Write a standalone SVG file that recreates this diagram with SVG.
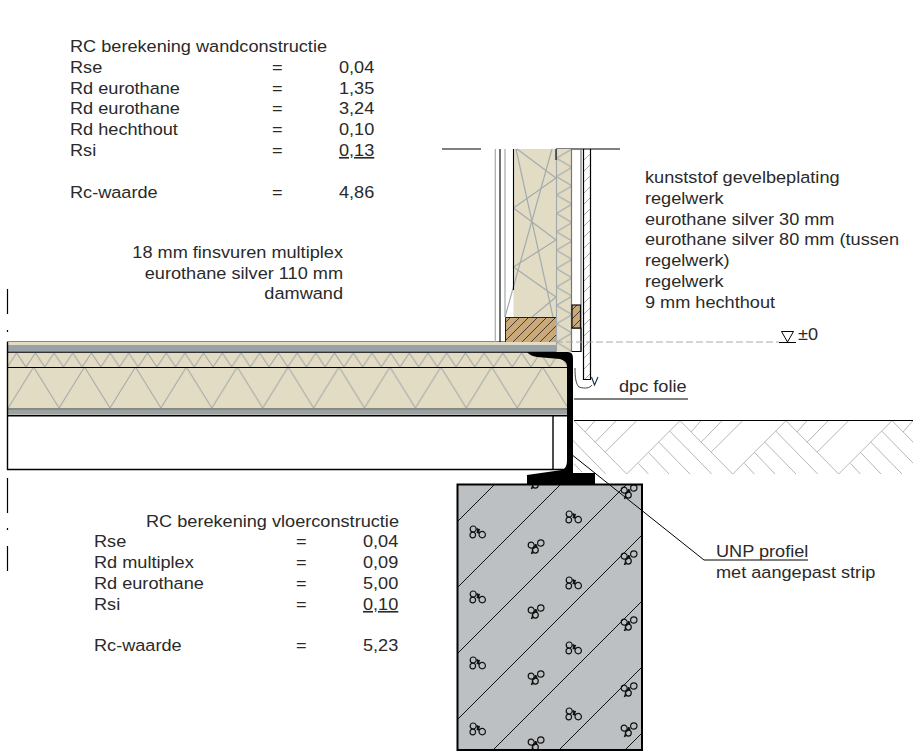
<svg xmlns="http://www.w3.org/2000/svg" width="920" height="756" viewBox="0 0 920 756">
<style>
text{font-family:"Liberation Sans",Arial,sans-serif;font-size:16.5px;fill:#2a2a2a;transform-box:fill-box;transform-origin:0 50%;transform:scaleX(1.1)}
.r{text-anchor:end;transform-origin:100% 50%}
.k{stroke:#000;fill:none}
.g{stroke:#a3abaf;stroke-width:1.2;fill:none}
.h{stroke:#b4b8b6;stroke-width:1;fill:none}
.rb{fill:none;stroke:#111;stroke-width:1.2}
</style>
<defs>
<pattern id="zu" patternUnits="userSpaceOnUse" width="18.7" height="14" patternTransform="translate(7.3,353)"><path d="M0,14L9.35,0L18.7,14" fill="none" stroke="#a6aaa8" stroke-width="1.1"/></pattern>
<pattern id="zl" patternUnits="userSpaceOnUse" width="50.9" height="41" patternTransform="translate(8.2,367)"><path d="M0,41L25.45,0L50.9,41" fill="none" stroke="#a6aaa8" stroke-width="1.1"/></pattern>
<pattern id="zw" patternUnits="userSpaceOnUse" width="15.5" height="18.4" patternTransform="translate(556.5,149)"><path d="M15.5,0L0,9.2L15.5,18.4" fill="none" stroke="#a3abaf" stroke-width="1.1"/></pattern>
<pattern id="hb" patternUnits="userSpaceOnUse" width="9" height="9"><path d="M-1,10L10,-1" stroke="#3a3028" stroke-width=".9"/></pattern>
<pattern id="cl" patternUnits="userSpaceOnUse" width="7" height="11" patternTransform="translate(584,150)"><path d="M0,10L7,3" stroke="#a6aaa8"/></pattern>
<clipPath id="gc"><rect x="573" y="420" width="340" height="55"/></clipPath>
<clipPath id="cc"><rect x="458" y="485" width="183" height="264"/></clipPath>
<g id="hp" class="h"><path d="M0,0L53.3,-53.3L106,0M-21.7,-21.7L10,-53.3M-31.7,-31.7L-10.6,-53.3M-41.7,-42L-31.7,-53.3M43,-43L85,0M32,-32L63.3,0M21.7,-21.7L42.3,0M11.7,-10.6L21.7,0"/></g>
<g id="r1"><circle class="rb" cx="-4.8" cy="-3" r="3"/><circle class="rb" cx="-5.2" cy="3" r="2.8"/><circle class="rb" cx="4.2" cy="2.6" r="3.2"/><path d="M-1,-3.5L1.5,1.5M1.5,-3L-1,1" stroke="#111" stroke-width="1.7"/></g>
<g id="r2"><circle class="rb" cx="-3.8" cy="-.8" r="3"/><circle class="rb" cx="5.8" cy="-3" r="3.2"/><circle class="rb" cx=".3" cy="4.1" r="3"/><path d="M-2,3L1.5,-1.5M0,-1.5L2,1M-3.5,8L-2,4.5" stroke="#111" stroke-width="1.7"/></g>
</defs>

<g id="calc-wall">
<text x="70" y="52">RC berekening wandconstructie</text>
<text x="70" y="73">Rse</text><text x="272" y="73">=</text><text x="339" y="73">0,04</text>
<text x="70" y="94">Rd eurothane</text><text x="272" y="94">=</text><text x="339" y="94">1,35</text>
<text x="70" y="114">Rd eurothane</text><text x="272" y="114">=</text><text x="339" y="114">3,24</text>
<text x="70" y="135">Rd hechthout</text><text x="272" y="135">=</text><text x="339" y="135">0,10</text>
<text x="70" y="156">Rsi</text><text x="272" y="156">=</text><text x="339" y="156" text-decoration="underline">0,13</text>
<text x="70" y="198">Rc-waarde</text><text x="272" y="198">=</text><text x="339" y="198">4,86</text>
</g>
<g id="label-floor">
<text class="r" x="343" y="258">18 mm finsvuren multiplex</text>
<text class="r" x="343" y="279">eurothane silver 110 mm</text>
<text class="r" x="343" y="299">damwand</text>
</g>
<g id="label-wall">
<text x="645" y="183">kunststof gevelbeplating</text>
<text x="645" y="204">regelwerk</text>
<text x="645" y="225">eurothane silver 30 mm</text>
<text x="645" y="245">eurothane silver 80 mm (tussen</text>
<text x="645" y="266">regelwerk)</text>
<text x="645" y="287">regelwerk</text>
<text x="645" y="308">9 mm hechthout</text>
</g>
<g id="calc-floor">
<text x="146" y="527">RC berekening vloerconstructie</text>
<text x="94" y="547">Rse</text><text x="296" y="547">=</text><text x="363" y="547">0,04</text>
<text x="94" y="568">Rd multiplex</text><text x="296" y="568">=</text><text x="363" y="568">0,09</text>
<text x="94" y="589">Rd eurothane</text><text x="296" y="589">=</text><text x="363" y="589">5,00</text>
<text x="94" y="610">Rsi</text><text x="296" y="610">=</text><text x="363" y="610" text-decoration="underline">0,10</text>
<text x="94" y="651">Rc-waarde</text><text x="296" y="651">=</text><text x="363" y="651">5,23</text>
</g>

<g id="ground">
<g clip-path="url(#gc)">
<use href="#hp" x="520.7" y="474"/><use href="#hp" x="626.7" y="474"/><use href="#hp" x="732.7" y="474"/><use href="#hp" x="838.7" y="474"/><use href="#hp" x="944.7" y="474"/>
</g>
<path class="k" d="M573,420.5H913"/>
<path d="M573,399H688" stroke="#555" stroke-width="1.4"/>
</g>

<g id="concrete">
<rect x="457.5" y="484.5" width="184.5" height="265.5" fill="#bcc0c2" stroke="#000" stroke-width="2"/>
<g clip-path="url(#cc)" stroke="#111" fill="none">
<path d="M457,522L495,484M457,588L561,484M457,654L627,484M457,720L642,535M457,786L642,601M523,786L642,667M589,786L642,733"/>
<use href="#r1" x="478" y="532"/><use href="#r1" x="478" y="597"/><use href="#r1" x="478" y="663"/><use href="#r1" x="478" y="729"/>
<use href="#r2" x="535" y="546"/><use href="#r2" x="535" y="611"/><use href="#r2" x="535" y="677"/><use href="#r2" x="535" y="743"/>
<use href="#r1" x="574" y="517"/><use href="#r1" x="574" y="583"/><use href="#r1" x="574" y="648"/><use href="#r1" x="574" y="714"/>
<use href="#r2" x="628" y="491"/><use href="#r2" x="628" y="557"/><use href="#r2" x="628" y="623"/><use href="#r2" x="628" y="689"/><use href="#r2" x="628" y="729"/>
<use href="#r2" x="535" y="481"/>
</g>
</g>

<g id="floor">
<rect x="7" y="342" width="560" height="74" fill="#e2dcc4"/>
<rect x="7" y="345" width="550" height="6.5" fill="#98a2a7"/>
<rect x="7" y="410" width="560" height="4.5" fill="#98a2a7"/>
<rect x="7" y="353" width="560" height="14" fill="url(#zu)"/>
<rect x="7" y="367" width="560" height="41" fill="url(#zl)"/>
<path d="M7,341.5H557" stroke="#888" fill="none"/>
<path d="M7,352.3H567" stroke-width="1.6" stroke="#333" fill="none"/>
<path class="k" d="M7,367.5H567" stroke-width="1.2"/>
<path d="M7,409H567" stroke="#333" fill="none"/>
<path class="k" d="M7,415.8H567" stroke-width="1.4"/>
<path class="k" d="M7.5,342V469.5H567M553,416V469" stroke-width="1.4"/>
</g>

<g id="wall">
<path class="k" d="M442,149H481M556,149H620" stroke-width="1.2"/>
<rect x="513.5" y="149" width="42.5" height="168" fill="#e2dcc4"/>
<rect x="556" y="149" width="16" height="203" fill="#e2dcc4"/>
<rect x="556.5" y="149" width="15.5" height="203" fill="url(#zw)"/>
<path class="g" d="M517,149L556,178L513.5,208L556,240L513.5,267L556,297L532,317M516,149L553,317M552,149L505,317"/>
<path class="g" d="M556.5,149V352M495.3,149V342M505,149V317"/>
<path d="M571.5,149V352M581,149V351.5" stroke="#777" stroke-width="1.2" fill="none"/>
<path class="k" d="M500,149V342M513.5,149V290M556,149V160M571.5,328H581V351.5H572" stroke-width="1.1"/>
<rect x="584" y="149" width="6.5" height="230" fill="url(#cl)"/>
<path class="k" d="M583.5,149V379.5H590.5V149" stroke-width="1.2"/>
<rect x="505.5" y="317.5" width="50.5" height="24.5" fill="#c9a97a"/>
<rect x="505.5" y="317.5" width="50.5" height="24.5" fill="url(#hb)"/>
<path d="M505.5,342V317.5H556" stroke="#222" fill="none"/>
<rect x="572" y="305" width="8.5" height="23" fill="#c9a97a"/>
<rect x="572" y="305" width="8.5" height="23" fill="url(#hb)" stroke="#111" stroke-width="1.2"/>
<path d="M505,345H557V351H505Z" fill="#98a2a7"/>
<path d="M575,368C575,378 576,384 579,387C585,389 590,388 592,385" stroke="#444" fill="none"/>
<path d="M591.5,377L594.5,385L598,377" stroke="#1a2a50" stroke-width="1.1" fill="none"/>
</g>

<g id="unp-profile">
<path d="M527,352H568Q573,352 573,358V473H595V484H527V475L562,470Q567,468 567,461V366Q567,361 560,359L537,357Q530,356 527,352Z" fill="#000"/>
<path d="M573.6,395V472M574,472.5H593" stroke="#fff" stroke-dasharray="5 3" fill="none" stroke-width="1"/>
</g>

<g id="level">
<path d="M556,342H779" stroke="#aaa" stroke-dasharray="7 3" fill="none"/>
<path class="k" d="M779,342.5H796M781.5,331.5H793.5L787.5,342Z"/>
<text x="798" y="340">±0</text>
</g>

<g id="labels">
<text x="619" y="392">dpc folie</text>
<path class="k" d="M571,454L704,560H808"/>
<text x="716" y="557">UNP profiel</text>
<text x="716" y="578">met aangepast strip</text>
</g>

<g id="edge-marks">
<path class="k" d="M7.5,289V314M7.5,330V332M7.5,478V513M7.5,528V530M7.5,546V571" stroke-width="1.2"/>
</g>
</svg>
